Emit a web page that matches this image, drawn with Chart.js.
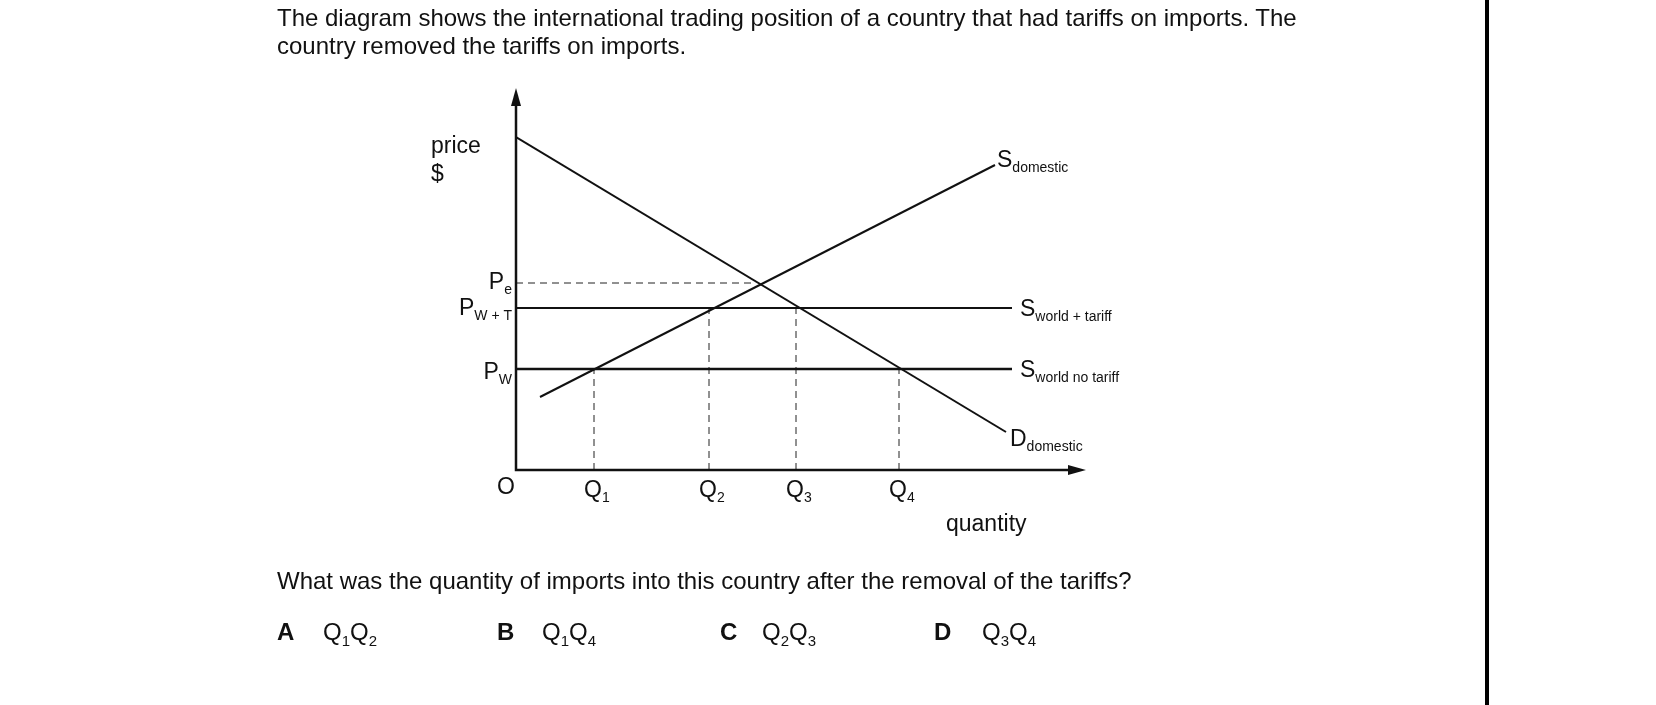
<!DOCTYPE html>
<html>
<head>
<meta charset="utf-8">
<script src="https://cdn.jsdelivr.net/npm/chart.js@4.4.0/dist/chart.umd.min.js"></script>
<style>
  body { margin: 0; background: #fff; font-family: "Liberation Sans", Arial, sans-serif; color: #111; }
  #wrap { position: relative; width: 1656px; height: 705px; overflow: hidden; }
  canvas { position: absolute; left: 0; top: 0; }
  .t { position: absolute; font-size: 24px; line-height: 28px; white-space: nowrap; }
  .b { font-weight: bold; }
  sub { font-size: 15px; }
  #rule { position: absolute; left: 1485px; top: 0; width: 4px; height: 705px; background: #000; }
</style>
</head>
<body>
<div id="wrap">
  <canvas id="c" width="1656" height="705"></canvas>
  <div class="t" style="left:277px;top:4px">The diagram shows the international trading position of a country that had tariffs on imports. The<br>country removed the tariffs on imports.</div>
  <div class="t" style="left:277px;top:567px">What was the quantity of imports into this country after the removal of the tariffs?</div>
  <div class="t b" style="left:277px;top:618px">A</div>
  <div class="t" style="left:323px;top:618px">Q<sub>1</sub>Q<sub>2</sub></div>
  <div class="t b" style="left:497px;top:618px">B</div>
  <div class="t" style="left:542px;top:618px">Q<sub>1</sub>Q<sub>4</sub></div>
  <div class="t b" style="left:720px;top:618px">C</div>
  <div class="t" style="left:762px;top:618px">Q<sub>2</sub>Q<sub>3</sub></div>
  <div class="t b" style="left:934px;top:618px">D</div>
  <div class="t" style="left:982px;top:618px">Q<sub>3</sub>Q<sub>4</sub></div>
  <div id="rule"></div>
</div>
<script>
// ─── Diagram data (units: x 0..570 quantity, y 0..382 price) ───
const demandLine = [{ x: 0, y: 333 }, { x: 490, y: 38 }];
const supplyLine = [{ x: 24, y: 73 }, { x: 479, y: 305 }];
const priceLevels = { pe: 187, pwt: 162, pw: 101 };
const worldLineEnd = 496;
const peDashEnd = 240;
const qValues = [78, 193, 280, 383];
const qTops = [101, 162, 162, 101];
const qLabels = ['1', '2', '3', '4'];

const solid = (data, w) => ({
  data, borderColor: '#111', borderWidth: w, pointRadius: 0, fill: false, tension: 0,
});
const dashed = (data) => ({
  data, borderColor: '#222', borderWidth: 1, borderDash: [7, 5], pointRadius: 0, fill: false, tension: 0,
});

const datasets = [
  solid(demandLine, 2),
  solid(supplyLine, 2),
  solid([{ x: 0, y: priceLevels.pwt }, { x: worldLineEnd, y: priceLevels.pwt }], 2),
  solid([{ x: 0, y: priceLevels.pw }, { x: worldLineEnd, y: priceLevels.pw }], 2.5),
  dashed([{ x: 0, y: priceLevels.pe }, { x: peDashEnd, y: priceLevels.pe }]),
];
qValues.forEach((q, i) => datasets.push(dashed([{ x: q, y: 0 }, { x: q, y: qTops[i] }])));

// axes, arrows and labels
const labelsPlugin = {
  id: 'labels',
  afterDatasetsDraw(chart) {
    const { ctx, scales: { x, y } } = chart;
    const X = (v) => x.getPixelForValue(v), Y = (v) => y.getPixelForValue(v);
    ctx.save();
    ctx.strokeStyle = '#111'; ctx.fillStyle = '#111'; ctx.lineWidth = 2.5;
    ctx.beginPath();
    ctx.moveTo(X(0), Y(370)); ctx.lineTo(X(0), Y(0)); ctx.lineTo(X(555), Y(0));
    ctx.stroke();
    ctx.beginPath(); // y arrow
    ctx.moveTo(X(0), Y(382)); ctx.lineTo(X(0) - 5, Y(364)); ctx.lineTo(X(0) + 5, Y(364)); ctx.fill();
    ctx.beginPath(); // x arrow
    ctx.moveTo(X(570), Y(0)); ctx.lineTo(X(552), Y(0) - 5); ctx.lineTo(X(552), Y(0) + 5); ctx.fill();

    const font = (s) => s + 'px "Liberation Sans", Arial, sans-serif';
    const sub = (main, s, px, py, size, subSize, align) => {
      ctx.font = font(size);
      const w1 = ctx.measureText(main).width;
      ctx.font = font(subSize);
      const w2 = ctx.measureText(s).width;
      const left = align === 'right' ? px - w1 - w2 : px;
      ctx.textAlign = 'left'; ctx.textBaseline = 'alphabetic';
      ctx.font = font(size); ctx.fillText(main, left, py);
      ctx.font = font(subSize); ctx.fillText(s, left + w1, py + size * 0.22);
    };
    ctx.textAlign = 'left'; ctx.textBaseline = 'alphabetic';
    ctx.font = font(23);
    ctx.fillText('price', 431, 153);
    ctx.fillText('$', 431, 181);
    ctx.fillText('O', 497, 494);
    ctx.fillText('quantity', 946, 531);
    qValues.forEach((q, i) => sub('Q', qLabels[i], X(q) - 10, 497, 23, 14));
    sub('P', 'e', X(0) - 4, Y(priceLevels.pe) + 6, 23, 14, 'right');
    sub('P', 'W + T', X(0) - 4, Y(priceLevels.pwt) + 7, 23, 14, 'right');
    sub('P', 'W', X(0) - 4, Y(priceLevels.pw) + 10, 23, 14, 'right');
    sub('S', 'domestic', X(479) + 2, Y(305) + 2, 23, 14);
    sub('S', 'world + tariff', X(worldLineEnd) + 8, Y(priceLevels.pwt) + 8, 23, 14);
    sub('S', 'world no tariff', X(worldLineEnd) + 8, Y(priceLevels.pw) + 8, 23, 14);
    sub('D', 'domestic', X(490) + 4, Y(38) + 14, 23, 14);
    ctx.restore();
  },
};

new Chart(document.getElementById('c'), {
  type: 'line',
  data: { datasets },
  options: {
    responsive: false,
    animation: false,
    layout: { padding: { left: 516, top: 88, right: 570, bottom: 235 } },
    plugins: { legend: { display: false }, tooltip: { enabled: false } },
    scales: {
      x: { type: 'linear', min: 0, max: 570, display: false },
      y: { type: 'linear', min: 0, max: 382, display: false },
    },
  },
  plugins: [labelsPlugin],
});
</script>
</body>
</html>
